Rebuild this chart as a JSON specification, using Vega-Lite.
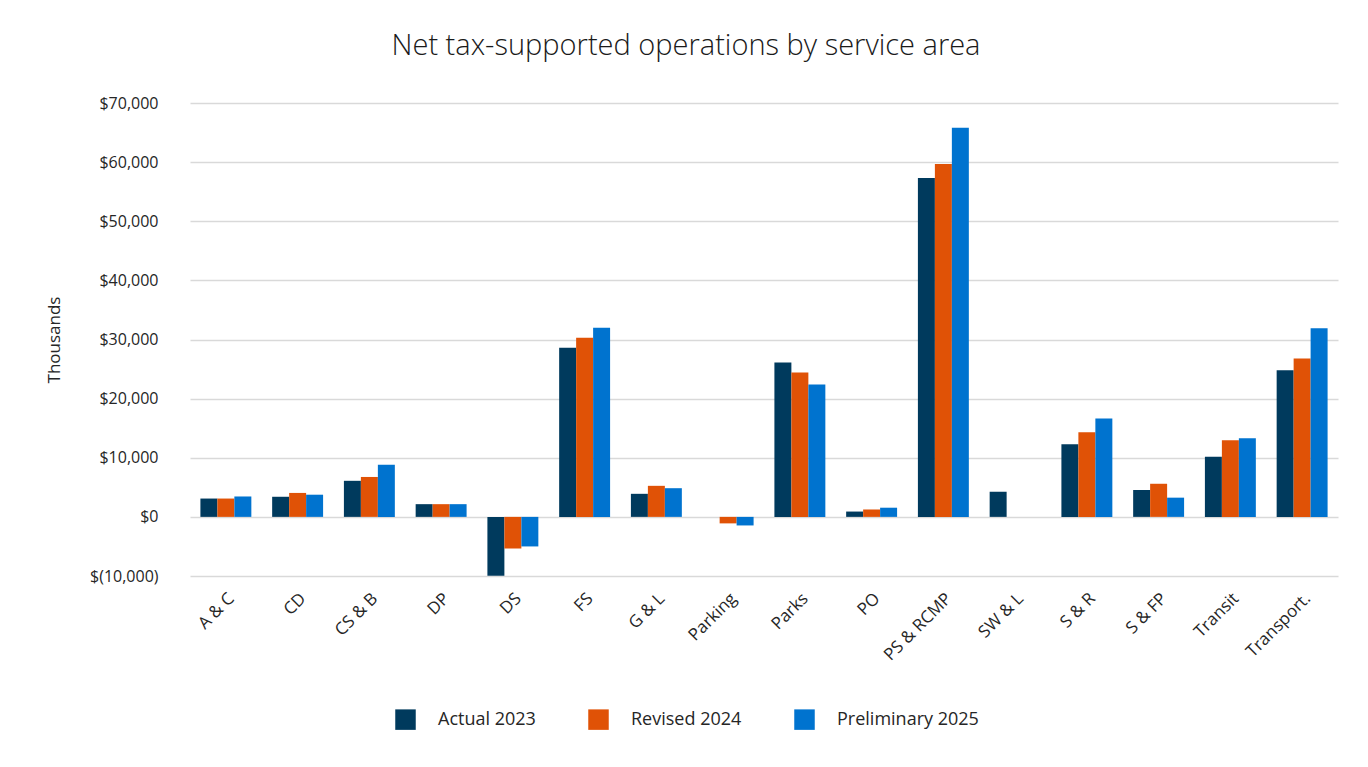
{
  "$schema": "https://vega.github.io/schema/vega-lite/v6.json",
  "autosize": {"type": "none"},
  "width": 1148,
  "height": 473,
  "padding": {"left": 190, "top": 103, "right": 30, "bottom": 191},
  "background": "white",
  "title": {
    "text": "Net tax-supported operations by service area",
    "font": "Open Sans",
    "fontSize": 29,
    "fontWeight": 300,
    "color": "#1a1a1a",
    "anchor": "middle",
    "dx": -78,
    "offset": 34
  },
  "data": {
    "values": [
      {"area": "A & C", "series": "Actual 2023", "value": 3100},
      {"area": "A & C", "series": "Revised 2024", "value": 3100},
      {"area": "A & C", "series": "Preliminary 2025", "value": 3450},
      {"area": "CD", "series": "Actual 2023", "value": 3400},
      {"area": "CD", "series": "Revised 2024", "value": 4050},
      {"area": "CD", "series": "Preliminary 2025", "value": 3750},
      {"area": "CS & B", "series": "Actual 2023", "value": 6100},
      {"area": "CS & B", "series": "Revised 2024", "value": 6750},
      {"area": "CS & B", "series": "Preliminary 2025", "value": 8800},
      {"area": "DP", "series": "Actual 2023", "value": 2150},
      {"area": "DP", "series": "Revised 2024", "value": 2150},
      {"area": "DP", "series": "Preliminary 2025", "value": 2150},
      {"area": "DS", "series": "Actual 2023", "value": -9950},
      {"area": "DS", "series": "Revised 2024", "value": -5350},
      {"area": "DS", "series": "Preliminary 2025", "value": -5000},
      {"area": "FS", "series": "Actual 2023", "value": 28600},
      {"area": "FS", "series": "Revised 2024", "value": 30300},
      {"area": "FS", "series": "Preliminary 2025", "value": 32000},
      {"area": "G & L", "series": "Actual 2023", "value": 3900},
      {"area": "G & L", "series": "Revised 2024", "value": 5250},
      {"area": "G & L", "series": "Preliminary 2025", "value": 4850},
      {"area": "Parking", "series": "Revised 2024", "value": -1100},
      {"area": "Parking", "series": "Preliminary 2025", "value": -1450},
      {"area": "Parks", "series": "Actual 2023", "value": 26100},
      {"area": "Parks", "series": "Revised 2024", "value": 24400},
      {"area": "Parks", "series": "Preliminary 2025", "value": 22400},
      {"area": "PO", "series": "Actual 2023", "value": 900},
      {"area": "PO", "series": "Revised 2024", "value": 1250},
      {"area": "PO", "series": "Preliminary 2025", "value": 1550},
      {"area": "PS & RCMP", "series": "Actual 2023", "value": 57300},
      {"area": "PS & RCMP", "series": "Revised 2024", "value": 59700},
      {"area": "PS & RCMP", "series": "Preliminary 2025", "value": 65800},
      {"area": "SW & L", "series": "Actual 2023", "value": 4250},
      {"area": "S & R", "series": "Actual 2023", "value": 12300},
      {"area": "S & R", "series": "Revised 2024", "value": 14300},
      {"area": "S & R", "series": "Preliminary 2025", "value": 16650},
      {"area": "S & FP", "series": "Actual 2023", "value": 4550},
      {"area": "S & FP", "series": "Revised 2024", "value": 5600},
      {"area": "S & FP", "series": "Preliminary 2025", "value": 3250},
      {"area": "Transit", "series": "Actual 2023", "value": 10150},
      {"area": "Transit", "series": "Revised 2024", "value": 12950},
      {"area": "Transit", "series": "Preliminary 2025", "value": 13300},
      {"area": "Transport.", "series": "Actual 2023", "value": 24800},
      {"area": "Transport.", "series": "Revised 2024", "value": 26800},
      {"area": "Transport.", "series": "Preliminary 2025", "value": 31900}
    ]
  },
  "mark": {"type": "bar"},
  "encoding": {
    "x": {
      "field": "area",
      "type": "nominal",
      "sort": null,
      "scale": {"paddingInner": 0.29, "paddingOuter": 0.145},
      "axis": {
        "title": null,
        "labelAngle": -45,
        "labelFont": "Open Sans",
        "labelFontSize": 17,
        "labelColor": "#262626",
        "labelPadding": 14,
        "ticks": false,
        "domain": false,
        "grid": false
      }
    },
    "xOffset": {
      "field": "series",
      "type": "nominal",
      "sort": ["Actual 2023", "Revised 2024", "Preliminary 2025"],
      "scale": {"paddingInner": 0}
    },
    "y": {
      "field": "value",
      "type": "quantitative",
      "scale": {"domain": [-10000, 70000], "nice": false},
      "axis": {
        "title": "Thousands",
        "titleFont": "Open Sans",
        "titleFontSize": 17,
        "titleFontWeight": "normal",
        "titleColor": "#262626",
        "titlePadding": 26,
        "values": [-10000, 0, 10000, 20000, 30000, 40000, 50000, 60000, 70000],
        "labelExpr": "datum.value < 0 ? '$(' + format(-datum.value, ',') + ')' : '$' + format(datum.value, ',')",
        "labelFont": "Open Sans",
        "labelFontSize": 16,
        "labelColor": "#262626",
        "labelPadding": 32,
        "ticks": false,
        "domain": false,
        "grid": true,
        "gridColor": "#d9d9d9",
        "gridWidth": 1.5
      }
    },
    "color": {
      "field": "series",
      "type": "nominal",
      "sort": ["Actual 2023", "Revised 2024", "Preliminary 2025"],
      "scale": {
        "domain": ["Actual 2023", "Revised 2024", "Preliminary 2025"],
        "range": ["#003a5d", "#e05206", "#0073cf"]
      },
      "legend": {
        "title": null,
        "orient": "none",
        "direction": "horizontal",
        "legendX": 205,
        "legendY": 606,
        "symbolType": "square",
        "symbolSize": 420,
        "symbolStrokeWidth": 0,
        "labelFont": "Open Sans",
        "labelFontSize": 18,
        "labelColor": "#262626",
        "labelOffset": 22,
        "columnPadding": 52
      }
    }
  },
  "config": {
    "view": {"stroke": null}
  }
}
